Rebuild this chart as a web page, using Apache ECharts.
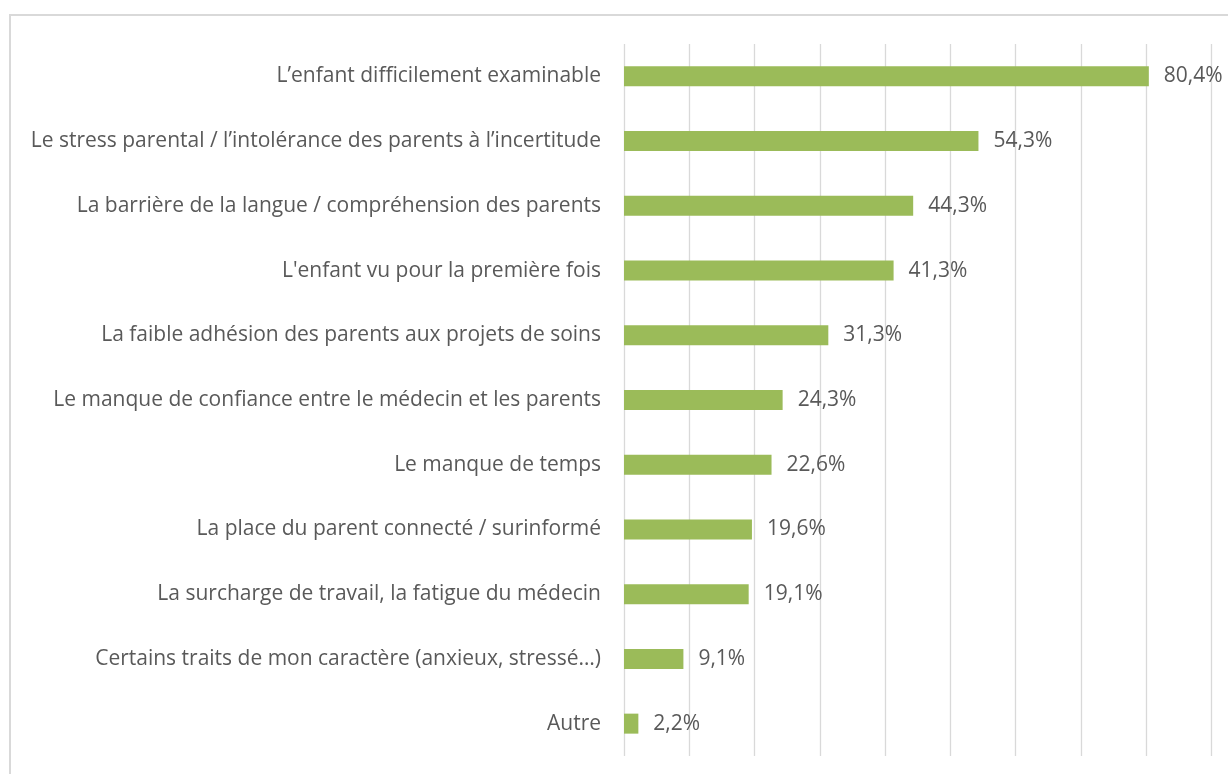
<!DOCTYPE html>
<html>
<head>
<meta charset="utf-8">
<script src="https://cdn.jsdelivr.net/npm/echarts@6/dist/echarts.min.js"></script>
<style>
html,body{margin:0;padding:0;background:#fff;}
#frame{position:absolute;left:9px;top:14px;width:1240px;height:780px;border:2px solid #d9d9d9;box-sizing:border-box;}
#chart{position:absolute;left:0;top:0;width:1228px;height:774px;}
</style>
</head>
<body>
<div id="frame"></div>
<div id="chart"></div>
<script>
const categories = [
  "L\u2019enfant difficilement examinable",
  "Le stress parental / l\u2019intol\u00e9rance des parents \u00e0 l\u2019incertitude",
  "La barri\u00e8re de la langue / compr\u00e9hension des parents",
  "L'enfant vu pour la premi\u00e8re fois",
  "La faible adh\u00e9sion des parents aux projets de soins",
  "Le manque de confiance entre le m\u00e9decin et les parents",
  "Le manque de temps",
  "La place du parent connect\u00e9 / surinform\u00e9",
  "La surcharge de travail, la fatigue du m\u00e9decin",
  "Certains traits de mon caract\u00e8re (anxieux, stress\u00e9\u2026)",
  "Autre"
];
const values = [80.4, 54.3, 44.3, 41.3, 31.3, 24.3, 22.6, 19.6, 19.1, 9.1, 2.2];

const chart = echarts.init(document.getElementById('chart'), null, {renderer:'canvas'});
chart.setOption({
  animation:false,
  grid:{left:624, right:16.5, top:44, bottom:18, containLabel:false},
  xAxis:{type:'value', min:0, max:90, interval:10,
    axisLabel:{show:false}, axisLine:{show:false}, axisTick:{show:false},
    splitLine:{show:true, lineStyle:{color:'#d9d9d9', width:1.3}}},
  yAxis:{type:'category', inverse:true, data:categories,
    axisLine:{show:false}, axisTick:{show:false},
    axisLabel:{fontFamily:'Open Sans', fontSize:21, color:'#595959', margin:23, padding:[4,0,0,0]}},
  series:[{type:'bar', data:values, barWidth:20,
    itemStyle:{color:'#9bbb59'},
    label:{show:true, position:'right', distance:15, fontFamily:'Open Sans', fontSize:21, color:'#595959',
      padding:[4,0,0,0],
      formatter:p=>p.value.toFixed(1).replace('.', ',')+'%'}}]
});
</script>
</body>
</html>
